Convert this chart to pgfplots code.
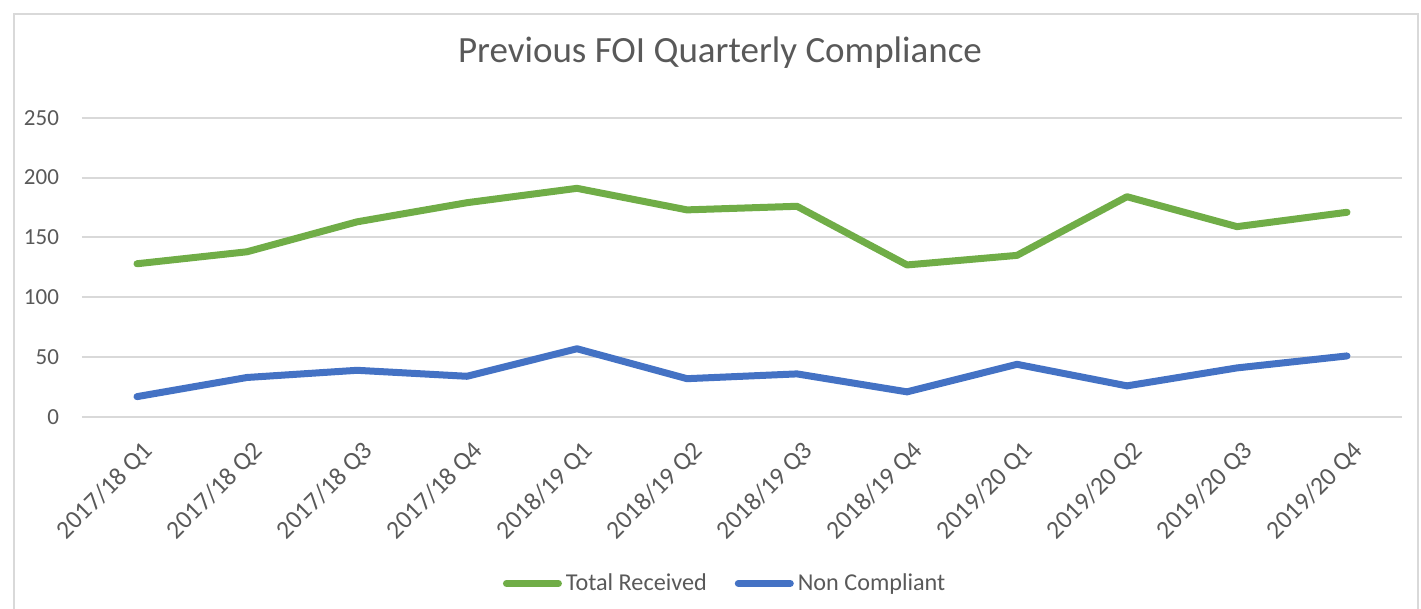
\documentclass[border=0pt]{standalone}
\usepackage{pgfplots}
\pgfplotsset{compat=1.18}
\usepackage{fontspec}
\setmainfont{Carlito}
\definecolor{cgreen}{HTML}{70AD47}
\definecolor{cblue}{HTML}{4472C4}
\definecolor{cgrid}{HTML}{D9D9D9}
\definecolor{ctext}{HTML}{595959}
\pgfplotstableread{
x total non
0 128 17
1 138 33
2 163 39
3 179 34
4 191 57
5 173 32
6 176 36
7 127 21
8 135 44
9 184 26
10 159 41
11 171 51
}\datatable
\begin{document}
\begin{tikzpicture}[x=1pt,y=1pt]
\begin{axis}[
  at={(41pt,96pt)}, anchor=south west,
  scale only axis, width=660pt, height=149.65pt,
  xmin=-0.5, xmax=11.5, ymin=0, ymax=250,
  ytick={0,50,100,150,200,250},
  xtick=data,
  xticklabels={2017/18 Q1,2017/18 Q2,2017/18 Q3,2017/18 Q4,2018/19 Q1,2018/19 Q2,2018/19 Q3,2018/19 Q4,2019/20 Q1,2019/20 Q2,2019/20 Q3,2019/20 Q4},
  /pgf/number format/assume math mode=true,
  ticklabel style={font=\fontsize{11.5}{13}\selectfont, text=ctext},
  xticklabel style={font=\fontsize{12.8}{15}\selectfont, rotate=45, anchor=east, xshift=-3pt, yshift=-15pt},
  yticklabel style={xshift=-8pt},
  axis line style={draw=none},
  major tick length=0pt,
  ymajorgrids, grid style={cgrid, line width=1pt},
  legend columns=2,
  legend style={at={(0.488,-0.556)}, anchor=center, draw=none, fill=none,
    font=\fontsize{12.1}{14}\selectfont, text=ctext,
    /tikz/every even column/.append style={column sep=12pt}},
  legend image code/.code={\draw[#1, line width=3.5pt, line cap=round] (0pt,0pt) -- (26pt,0pt);},
]
\addplot[cgreen, line width=3.5pt, line join=round, line cap=round] table[x=x, y=total] {\datatable};
\addlegendentry{Total Received}
\addplot[cblue, line width=3.5pt, line join=round, line cap=round] table[x=x, y=non] {\datatable};
\addlegendentry{Non Compliant}
\end{axis}
\node[text=ctext, font=\fontsize{18.5}{22}\selectfont] at (360pt,278pt) {Previous FOI Quarterly Compliance};
\draw[cgrid, line width=0.8pt] (7pt,-2pt) -- (7pt,297.5pt) -- (709pt,297.5pt) -- (709pt,-2pt);
\pgfresetboundingbox
\useasboundingbox (0,0) rectangle (710.5pt,304.5pt);
\end{tikzpicture}
\end{document}
